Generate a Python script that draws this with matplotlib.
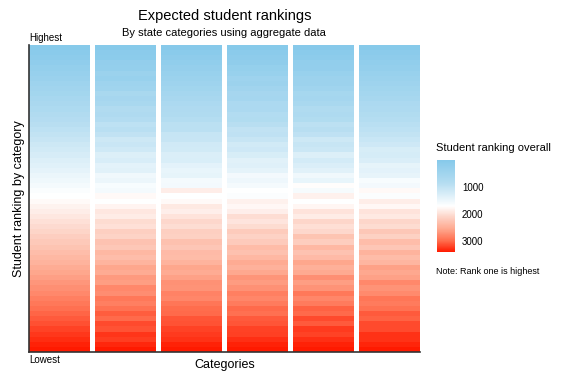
import numpy as np
import matplotlib
matplotlib.use("Agg")
import matplotlib.pyplot as plt
from matplotlib.colors import LinearSegmentedColormap, Normalize

plt.rcParams['font.family'] = ['Liberation Sans', 'DejaVu Sans']

# overall rank (1 = highest) of each student, ordered by rank within the category
overall = [30, 85, 140, 200, 255, 315, 370, 430, 485, 545, 600, 660, 715, 775, 830,
           890, 945, 1005, 1060, 1120, 1175, 1235, 1290, 1350, 1405, 1465, 1520, 1580,
           1635, 1695, 1750, 1810, 1865, 1925, 1980, 2040, 2095, 2155, 2210, 2270, 2325,
           2385, 2440, 2500, 2555, 2615, 2670, 2730, 2785, 2845, 2900, 2960, 3015, 3075,
           3130, 3190, 3245, 3305, 3360, 3400]
cat_a = [40, 100, 120, 230, 260, 380, 340, 450, 470, 640, 580, 650, 780, 740, 820,
         950, 900, 990, 1120, 1080, 1150, 1300, 1250, 1380, 1360, 1540, 1480, 1620,
         1580, 1760, 1700, 1800, 1920, 1880, 2020, 1990, 2150, 2100, 2280, 2230, 2380,
         2330, 2420, 2560, 2520, 2650, 2620, 2780, 2740, 2900, 2850, 2940, 3060, 3000,
         3150, 3110, 3260, 3220, 3330, 3390]
cat_b = [25, 90, 150, 210, 270, 320, 390, 440, 500, 560, 620, 680, 740, 760, 850,
         920, 930, 1040, 1060, 1160, 1170, 1280, 1270, 1380, 1440, 1420, 1580, 1560,
         1860, 1700, 1760, 1900, 1850, 1960, 2060, 2010, 2140, 2130, 2290, 2240, 2360,
         2350, 2440, 2560, 2520, 2600, 2720, 2700, 2820, 2800, 2920, 2980, 2990, 3100,
         3110, 3200, 3240, 3280, 3350, 3400]
cat_c = [35, 100, 150, 180, 280, 320, 430, 410, 480, 580, 570, 680, 690, 800, 790,
         880, 990, 970, 1050, 1180, 1130, 1240, 1360, 1330, 1400, 1560, 1510, 1580,
         1700, 1660, 1820, 1780, 1850, 2010, 1950, 2030, 2180, 2120, 2200, 2350, 2290,
         2380, 2520, 2450, 2540, 2690, 2640, 2710, 2850, 2800, 2880, 3000, 2950, 3080,
         3100, 3200, 3210, 3290, 3350, 3400]
cat_d = [20, 80, 140, 220, 230, 320, 410, 400, 470, 590, 560, 640, 760, 720, 790,
         940, 880, 960, 1120, 1060, 1110, 1300, 1200, 1280, 1360, 1540, 1440, 1720,
         1600, 1820, 1700, 1790, 1960, 1880, 2080, 2000, 2070, 2260, 2170, 2390, 2280,
         2360, 2560, 2470, 2530, 2730, 2620, 2700, 2900, 2800, 2870, 3040, 2990, 3150,
         3080, 3230, 3200, 3290, 3350, 3400]
cat_e = [30, 95, 150, 210, 260, 320, 380, 440, 500, 550, 610, 680, 730, 790, 850,
         900, 950, 1010, 1070, 1130, 1240, 1220, 1280, 1420, 1380, 1430, 1620, 1560,
         1760, 1660, 1860, 1780, 1960, 1900, 2080, 2020, 2220, 2130, 2330, 2240, 2440,
         2350, 2410, 2600, 2540, 2600, 2780, 2700, 2770, 2920, 2880, 2940, 3080, 3040,
         3150, 3160, 3270, 3280, 3340, 3400]
columns = [overall, cat_a, cat_b, cat_c, cat_d, cat_e]

cbar_ticks = [1000, 2000, 3000]

# blue -> white -> red, with the warm side passing through salmon tones
cmap = LinearSegmentedColormap.from_list(
    'rank', [(0.0, '#86c9ea'), (0.25, '#b5ddf1'), (0.5, '#ffffff'),
             (0.62, '#fdd3c6'), (0.75, '#fea88f'), (0.88, '#ff6c4c'),
             (1.0, '#ff1a00')])
norm = Normalize(vmin=1, vmax=3400)

fig = plt.figure(figsize=(5.65, 3.75), dpi=100)
ax = fig.add_axes([0.0513, 0.0613, 0.6920, 0.8187])

width = 0.92
for j, col in enumerate(columns):
    vals = np.array(col, dtype=float)[:, None]
    n = len(col)
    ax.pcolormesh([j, j + width], np.arange(n + 1), vals, cmap=cmap, norm=norm,
                  shading='flat', antialiased=False, linewidth=0)

ax.set_xlim(0, len(columns) - 1 + width)
ax.set_ylim(len(overall), 0)
ax.set_xticks([])
ax.set_yticks([])
for s in ['top', 'right']:
    ax.spines[s].set_visible(False)
for s in ['left', 'bottom']:
    ax.spines[s].set_color('#333333')
    ax.spines[s].set_linewidth(1.2)

ax.text(0, 1.008, 'Highest', transform=ax.transAxes, fontsize=7, ha='left', va='bottom')
ax.text(0, -0.01, 'Lowest', transform=ax.transAxes, fontsize=7, ha='left', va='top')
ax.set_ylabel('Student ranking by category', fontsize=9, labelpad=3)
ax.set_xlabel('Categories', fontsize=9, labelpad=5)

fig.text(0.397, 0.957, 'Expected student rankings', fontsize=10.5, ha='center', va='center')
fig.text(0.397, 0.912, 'By state categories using aggregate data', fontsize=8,
         ha='center', va='center')

# colour bar legend
cax = fig.add_axes([0.7735, 0.328, 0.032, 0.245])
cb = fig.colorbar(plt.cm.ScalarMappable(norm=norm, cmap=cmap), cax=cax)
cb.outline.set_visible(False)
cax.invert_yaxis()
cb.set_ticks(cbar_ticks)
cb.set_ticklabels([str(t) for t in cbar_ticks])
cax.tick_params(length=0, labelsize=7, pad=5)
fig.text(0.772, 0.605, 'Student ranking overall', fontsize=8, ha='left', va='center')
fig.text(0.772, 0.275, 'Note: Rank one is highest', fontsize=6.5, ha='left', va='center')

fig.savefig('out.png', dpi=100)
